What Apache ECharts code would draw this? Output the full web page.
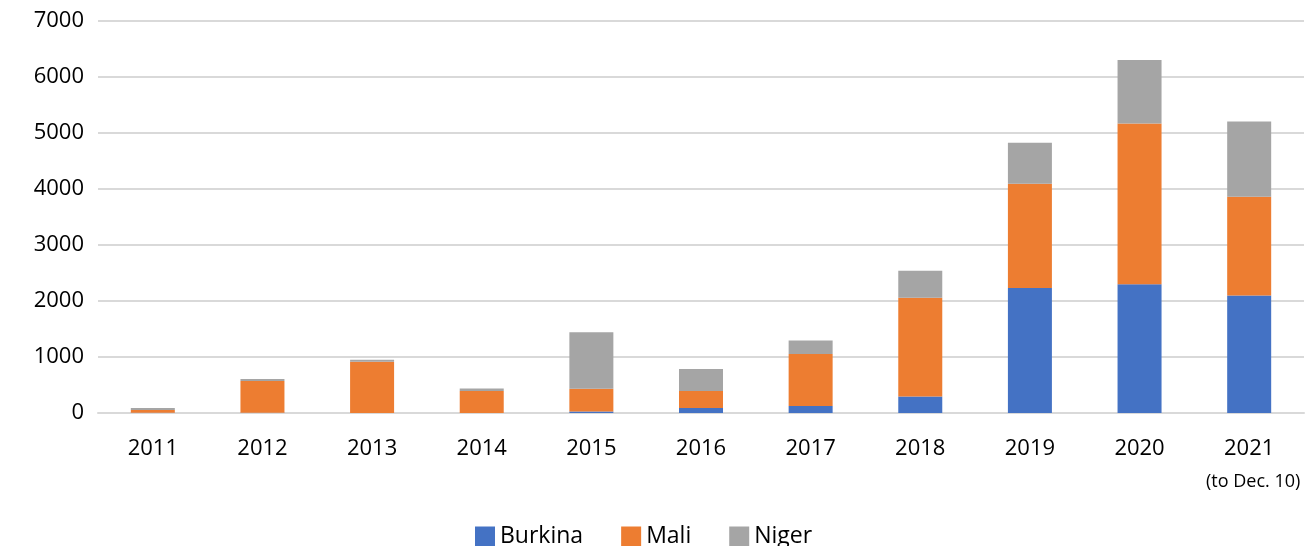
<!DOCTYPE html>
<html>
<head>
<meta charset="utf-8">
<script src="https://cdn.jsdelivr.net/npm/echarts@6/dist/echarts.min.js"></script>
<style>
html,body{margin:0;padding:0;background:#fff;}
#c{width:1309px;height:546px;}
</style>
</head>
<body>
<div id="c"></div>
<script>
const categories = ['2011','2012','2013','2014','2015','2016','2017','2018','2019','2020','2021'];
const lastNote = '(to Dec. 10)';
const burkina = [5, 5, 0, 0, 25, 90, 125, 295, 2230, 2300, 2100];
const mali = [50, 565, 914, 394, 410, 305, 930, 1765, 1865, 2870, 1760];
const niger = [35, 36, 36, 43, 1005, 390, 240, 480, 730, 1135, 1345];
const yTicks = [0, 1000, 2000, 3000, 4000, 5000, 6000, 7000];

const FONT = 'Open Sans';
const chart = echarts.init(document.getElementById('c'));
const mk = (name, data, color) => ({
  name, type: 'bar', stack: 'total', data, barWidth: 44,
  itemStyle: { color }
});
chart.setOption({
  animation: false,
  textStyle: { fontFamily: FONT },
  grid: { left: 98, right: 5, top: 21, bottom: 133 },
  legend: {
    top: 520, left: 470,
    icon: 'rect',
    itemWidth: 20, itemHeight: 20, itemGap: 38,
    textStyle: { fontFamily: FONT, fontSize: 23, color: '#000' },
    data: ['Burkina', 'Mali', 'Niger']
  },
  xAxis: {
    type: 'category', data: categories,
    axisLine: { lineStyle: { color: '#d9d9d9', width: 2 } },
    axisTick: { show: false },
    axisLabel: {
      interval: 0,
      margin: 20, color: '#000', fontSize: 22, fontFamily: FONT,
      formatter: (v, i) => i === categories.length - 1 ? '{a|' + v + '}\n{b|' + lastNote + '}' : '{a|' + v + '}',
      rich: {
        a: { fontSize: 22, color: '#000', fontFamily: FONT, lineHeight: 32 },
        b: { fontSize: 18, color: '#000', fontFamily: FONT, lineHeight: 34, padding: [0, 0, 0, 8] }
      }
    }
  },
  yAxis: {
    type: 'value', min: yTicks[0], max: yTicks[yTicks.length - 1], interval: 1000,
    axisLine: { show: false }, axisTick: { show: false },
    splitLine: { lineStyle: { color: '#d9d9d9', width: 2 } },
    axisLabel: { margin: 14, color: '#000', fontSize: 22, fontFamily: FONT, formatter: v => String(v) }
  },
  series: [
    mk('Burkina', burkina, '#4472C4'),
    mk('Mali', mali, '#ED7D31'),
    mk('Niger', niger, '#A5A5A5')
  ]
});
</script>
</body>
</html>
